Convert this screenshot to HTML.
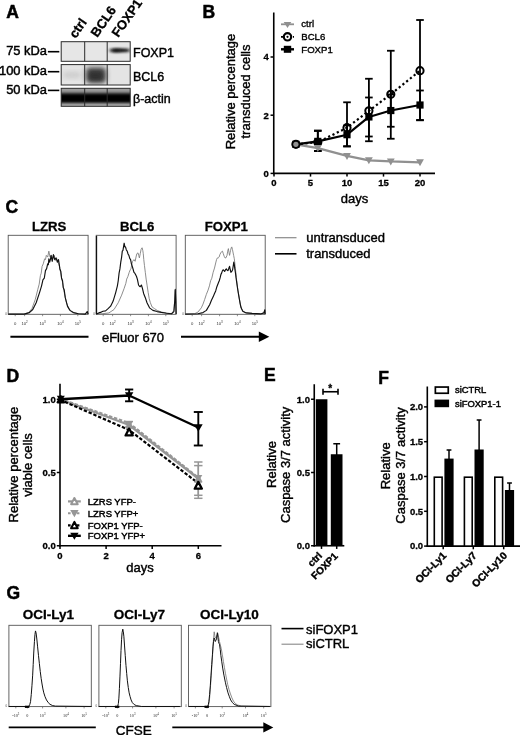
<!DOCTYPE html>
<html lang="en"><head><meta charset="utf-8"><title>Figure</title>
<style>html,body{margin:0;padding:0;background:#fff;}svg{display:block;filter:blur(0.35px);font-family:'Liberation Sans',Arial,Helvetica,sans-serif;}</style></head>
<body>
<svg width="520" height="735" viewBox="0 0 520 735">
<rect width="520" height="735" fill="#fff"/>
<g id="panelA">
<text x="6.3" y="17.7" font-size="17.5" font-weight="bold" text-anchor="start" fill="#000" stroke="#000" stroke-width="0.5">A</text>
<text x="75.7" y="38.9" font-size="13" font-weight="bold" text-anchor="start" fill="#000" transform="rotate(-55 75.7 38.9)" stroke="#000" stroke-width="0.3">ctrl</text>
<text x="97.3" y="38" font-size="13" font-weight="bold" text-anchor="start" fill="#000" transform="rotate(-55 97.3 38)" stroke="#000" stroke-width="0.3">BCL6</text>
<text x="118.3" y="38" font-size="13" font-weight="bold" text-anchor="start" fill="#000" transform="rotate(-55 118.3 38)" stroke="#000" stroke-width="0.3">FOXP1</text>
<text x="47.0" y="55.1" font-size="12.9" font-weight="normal" text-anchor="end" fill="#000" stroke="#000" stroke-width="0.45">75 kDa</text>
<line x1="47.9" y1="51.7" x2="59.3" y2="51.7" stroke="#000" stroke-width="1.6"/>
<text x="47.0" y="75.2" font-size="12.9" font-weight="normal" text-anchor="end" fill="#000" stroke="#000" stroke-width="0.45">100 kDa</text>
<line x1="47.9" y1="71.7" x2="59.3" y2="71.7" stroke="#000" stroke-width="1.6"/>
<text x="47.0" y="93.9" font-size="12.9" font-weight="normal" text-anchor="end" fill="#000" stroke="#000" stroke-width="0.45">50 kDa</text>
<line x1="47.9" y1="90.4" x2="59.3" y2="90.4" stroke="#000" stroke-width="1.6"/>
<text x="133" y="57" font-size="12.5" font-weight="normal" text-anchor="start" fill="#000" stroke="#000" stroke-width="0.4">FOXP1</text>
<text x="133" y="81" font-size="12.5" font-weight="normal" text-anchor="start" fill="#000" stroke="#000" stroke-width="0.4">BCL6</text>
<text x="133" y="102.5" font-size="12.5" font-weight="normal" text-anchor="start" fill="#000" stroke="#000" stroke-width="0.4">β-actin</text>
<defs><filter id="bl1" x="-30%" y="-60%" width="160%" height="220%"><feGaussianBlur stdDeviation="2.0 1.3"/></filter><filter id="bl2" x="-30%" y="-40%" width="160%" height="180%"><feGaussianBlur stdDeviation="2.4 2.6"/></filter><filter id="bl3" x="-10%" y="-60%" width="120%" height="220%"><feGaussianBlur stdDeviation="1.2 1.5"/></filter><clipPath id="cr1"><rect x="61.2" y="41.7" width="69" height="19.6"/></clipPath><clipPath id="cr2"><rect x="61.2" y="64.6" width="69" height="20.4"/></clipPath><clipPath id="cr3"><rect x="61.2" y="88.3" width="69" height="18"/></clipPath></defs>
<rect x="61.2" y="41.7" width="68.99999999999999" height="19.6" fill="#e6e6e6" stroke="none" stroke-width="0"/>
<g clip-path="url(#cr1)"><rect x="110.5" y="48.6" width="19" height="3.6" rx="1.8" fill="#1a1a1a" filter="url(#bl1)"/><rect x="112" y="48.4" width="9" height="4" rx="2" fill="#111" opacity="0.6" filter="url(#bl1)"/></g>
<rect x="61.2" y="64.6" width="68.99999999999999" height="20.4" fill="#e4e4e4" stroke="none" stroke-width="0"/>
<g clip-path="url(#cr2)"><rect x="86" y="67.5" width="20" height="15.5" rx="4" fill="#3a3a3a" filter="url(#bl2)"/><rect x="89" y="72.5" width="13" height="8" rx="4" fill="#222" opacity="0.45" filter="url(#bl2)"/><rect x="63" y="72" width="18" height="6" rx="3" fill="#bbb" opacity="0.6" filter="url(#bl2)"/></g>
<rect x="61.2" y="88.3" width="68.99999999999999" height="18" fill="#9c9c9c" stroke="none" stroke-width="0"/>
<g clip-path="url(#cr3)"><rect x="58" y="93.2" width="76" height="9.8" fill="#000" filter="url(#bl3)"/><rect x="58" y="104.6" width="76" height="3" fill="#ccc" opacity="0.6" filter="url(#bl3)"/></g>
<rect x="61.2" y="41.7" width="68.99999999999999" height="19.599999999999994" fill="none" stroke="#2a2a2a" stroke-width="1"/>
<line x1="84.7" y1="41.7" x2="84.7" y2="61.3" stroke="#2a2a2a" stroke-width="1"/>
<line x1="107.2" y1="41.7" x2="107.2" y2="61.3" stroke="#2a2a2a" stroke-width="1"/>
<rect x="61.2" y="64.6" width="68.99999999999999" height="20.400000000000006" fill="none" stroke="#2a2a2a" stroke-width="1"/>
<line x1="84.7" y1="64.6" x2="84.7" y2="85.0" stroke="#2a2a2a" stroke-width="1"/>
<line x1="107.2" y1="64.6" x2="107.2" y2="85.0" stroke="#2a2a2a" stroke-width="1"/>
<rect x="61.2" y="88.3" width="68.99999999999999" height="18.0" fill="none" stroke="#2a2a2a" stroke-width="1"/>
<line x1="84.7" y1="88.3" x2="84.7" y2="106.3" stroke="#2a2a2a" stroke-width="1"/>
<line x1="107.2" y1="88.3" x2="107.2" y2="106.3" stroke="#2a2a2a" stroke-width="1"/>
</g>

<g id="panelB">
<text x="202.5" y="18.0" font-size="17.5" font-weight="bold" text-anchor="start" fill="#000" stroke="#000" stroke-width="0.5">B</text>
<line x1="273.75" y1="12.5" x2="273.75" y2="174.15" stroke="#000" stroke-width="1.6"/>
<line x1="272.95" y1="173.4" x2="435" y2="173.4" stroke="#000" stroke-width="1.6"/>
<line x1="270.55" y1="173.4" x2="273.75" y2="173.4" stroke="#000" stroke-width="1.5"/>
<text x="268.75" y="176.70000000000002" font-size="9.5" font-weight="bold" text-anchor="end" fill="#000" stroke="#000" stroke-width="0.3">0</text>
<line x1="270.55" y1="115.2" x2="273.75" y2="115.2" stroke="#000" stroke-width="1.5"/>
<text x="268.75" y="118.5" font-size="9.5" font-weight="bold" text-anchor="end" fill="#000" stroke="#000" stroke-width="0.3">2</text>
<line x1="270.55" y1="57.0" x2="273.75" y2="57.0" stroke="#000" stroke-width="1.5"/>
<text x="268.75" y="60.3" font-size="9.5" font-weight="bold" text-anchor="end" fill="#000" stroke="#000" stroke-width="0.3">4</text>
<line x1="274.0" y1="173.4" x2="274.0" y2="176.6" stroke="#000" stroke-width="1.5"/>
<text x="274.0" y="186.3" font-size="9.5" font-weight="bold" text-anchor="middle" fill="#000" stroke="#000" stroke-width="0.3">0</text>
<line x1="310.5" y1="173.4" x2="310.5" y2="176.6" stroke="#000" stroke-width="1.5"/>
<text x="310.5" y="186.3" font-size="9.5" font-weight="bold" text-anchor="middle" fill="#000" stroke="#000" stroke-width="0.3">5</text>
<line x1="347.0" y1="173.4" x2="347.0" y2="176.6" stroke="#000" stroke-width="1.5"/>
<text x="347.0" y="186.3" font-size="9.5" font-weight="bold" text-anchor="middle" fill="#000" stroke="#000" stroke-width="0.3">10</text>
<line x1="383.5" y1="173.4" x2="383.5" y2="176.6" stroke="#000" stroke-width="1.5"/>
<text x="383.5" y="186.3" font-size="9.5" font-weight="bold" text-anchor="middle" fill="#000" stroke="#000" stroke-width="0.3">15</text>
<line x1="420.0" y1="173.4" x2="420.0" y2="176.6" stroke="#000" stroke-width="1.5"/>
<text x="420.0" y="186.3" font-size="9.5" font-weight="bold" text-anchor="middle" fill="#000" stroke="#000" stroke-width="0.3">20</text>
<text x="354.5" y="203.0" font-size="13" font-weight="normal" text-anchor="middle" fill="#000" stroke="#000" stroke-width="0.4">days</text>
<text x="234.5" y="91.5" font-size="13" font-weight="normal" text-anchor="middle" fill="#000" transform="rotate(-90 234.5 91.5)" stroke="#000" stroke-width="0.4">Relative percentage</text>
<text x="249.8" y="91.5" font-size="13" font-weight="normal" text-anchor="middle" fill="#000" transform="rotate(-90 249.8 91.5)" stroke="#000" stroke-width="0.4">transduced cells</text>
<polyline points="295.9,144.3 317.8,148.08 347.0,155.94 368.9,160.31 390.8,161.47 420.0,162.34" fill="none" stroke="#909090" stroke-width="2.3" stroke-linejoin="round"/>
<line x1="317.8" y1="130.5" x2="317.8" y2="151" stroke="#000" stroke-width="1.8"/>
<line x1="314.0" y1="130.5" x2="321.6" y2="130.5" stroke="#000" stroke-width="1.8"/>
<line x1="314.0" y1="151" x2="321.6" y2="151" stroke="#000" stroke-width="1.8"/>
<line x1="347.0" y1="102.3" x2="347.0" y2="146.2" stroke="#000" stroke-width="1.8"/>
<line x1="343.2" y1="102.3" x2="350.8" y2="102.3" stroke="#000" stroke-width="1.8"/>
<line x1="343.2" y1="146.2" x2="350.8" y2="146.2" stroke="#000" stroke-width="1.8"/>
<line x1="368.9" y1="78.75" x2="368.9" y2="141.25" stroke="#000" stroke-width="1.8"/>
<line x1="365.09999999999997" y1="78.75" x2="372.7" y2="78.75" stroke="#000" stroke-width="1.8"/>
<line x1="365.09999999999997" y1="141.25" x2="372.7" y2="141.25" stroke="#000" stroke-width="1.8"/>
<line x1="390.8" y1="50.75" x2="390.8" y2="138.75" stroke="#000" stroke-width="1.8"/>
<line x1="387.0" y1="50.75" x2="394.6" y2="50.75" stroke="#000" stroke-width="1.8"/>
<line x1="387.0" y1="138.75" x2="394.6" y2="138.75" stroke="#000" stroke-width="1.8"/>
<line x1="420.0" y1="20" x2="420.0" y2="120" stroke="#000" stroke-width="1.8"/>
<line x1="416.2" y1="20" x2="423.8" y2="20" stroke="#000" stroke-width="1.8"/>
<line x1="416.2" y1="120" x2="423.8" y2="120" stroke="#000" stroke-width="1.8"/>
<line x1="317.8" y1="131" x2="317.8" y2="151" stroke="#000" stroke-width="1.8"/>
<line x1="314.0" y1="131" x2="321.6" y2="131" stroke="#000" stroke-width="1.8"/>
<line x1="314.0" y1="151" x2="321.6" y2="151" stroke="#000" stroke-width="1.8"/>
<line x1="347.0" y1="125.5" x2="347.0" y2="146.5" stroke="#000" stroke-width="1.8"/>
<line x1="343.2" y1="125.5" x2="350.8" y2="125.5" stroke="#000" stroke-width="1.8"/>
<line x1="343.2" y1="146.5" x2="350.8" y2="146.5" stroke="#000" stroke-width="1.8"/>
<line x1="368.9" y1="97.5" x2="368.9" y2="136.5" stroke="#000" stroke-width="1.8"/>
<line x1="365.09999999999997" y1="97.5" x2="372.7" y2="97.5" stroke="#000" stroke-width="1.8"/>
<line x1="365.09999999999997" y1="136.5" x2="372.7" y2="136.5" stroke="#000" stroke-width="1.8"/>
<line x1="390.8" y1="94.5" x2="390.8" y2="126.75" stroke="#000" stroke-width="1.8"/>
<line x1="387.0" y1="94.5" x2="394.6" y2="94.5" stroke="#000" stroke-width="1.8"/>
<line x1="387.0" y1="126.75" x2="394.6" y2="126.75" stroke="#000" stroke-width="1.8"/>
<line x1="420.0" y1="90.5" x2="420.0" y2="120.3" stroke="#000" stroke-width="1.8"/>
<line x1="416.2" y1="90.5" x2="423.8" y2="90.5" stroke="#000" stroke-width="1.8"/>
<line x1="416.2" y1="120.3" x2="423.8" y2="120.3" stroke="#000" stroke-width="1.8"/>
<polyline points="295.9,144.3 317.8,142.26 347.0,127.71 368.9,110.84 390.8,94.25 420.0,70.68" fill="none" stroke="#000" stroke-width="2.2" stroke-linejoin="round" stroke-dasharray="2.2 2.6"/>
<polyline points="295.9,144.3 317.8,141.39 347.0,134.7 368.9,116.95 390.8,110.54 420.0,105.02" fill="none" stroke="#000" stroke-width="2.2" stroke-linejoin="round"/>
<rect x="292.29999999999995" y="140.70000000000002" width="7.2" height="7.2" fill="#000" stroke="none" stroke-width="0"/>
<rect x="314.2" y="137.79" width="7.2" height="7.2" fill="#000" stroke="none" stroke-width="0"/>
<rect x="343.4" y="131.097" width="7.2" height="7.2" fill="#000" stroke="none" stroke-width="0"/>
<rect x="365.29999999999995" y="113.346" width="7.2" height="7.2" fill="#000" stroke="none" stroke-width="0"/>
<rect x="387.2" y="106.944" width="7.2" height="7.2" fill="#000" stroke="none" stroke-width="0"/>
<rect x="416.4" y="101.415" width="7.2" height="7.2" fill="#000" stroke="none" stroke-width="0"/>
<circle cx="295.9" cy="144.3" r="3.6" fill="none" stroke="#000" stroke-width="2.0"/>
<circle cx="317.8" cy="142.263" r="3.6" fill="none" stroke="#000" stroke-width="2.0"/>
<circle cx="347.0" cy="127.713" r="3.6" fill="none" stroke="#000" stroke-width="2.0"/>
<circle cx="368.9" cy="110.83500000000001" r="3.6" fill="none" stroke="#000" stroke-width="2.0"/>
<circle cx="390.8" cy="94.24799999999999" r="3.6" fill="none" stroke="#000" stroke-width="2.0"/>
<circle cx="420.0" cy="70.677" r="3.6" fill="none" stroke="#000" stroke-width="2.0"/>
<polygon points="313.90000000000003,145.083 321.7,145.083 317.8,152.083" fill="#909090"/>
<polygon points="343.1,152.94 350.9,152.94 347.0,159.94" fill="#909090"/>
<polygon points="365.0,157.305 372.79999999999995,157.305 368.9,164.305" fill="#909090"/>
<polygon points="386.90000000000003,158.469 394.7,158.469 390.8,165.469" fill="#909090"/>
<polygon points="416.1,159.342 423.9,159.342 420.0,166.342" fill="#909090"/>
<circle cx="295.9" cy="144.3" r="2.6" fill="#909090"/>
<line x1="281" y1="24.3" x2="294" y2="24.3" stroke="#909090" stroke-width="1.8"/>
<polygon points="283.7,22.1 291.3,22.1 287.5,28.1" fill="#909090"/>
<line x1="281" y1="36.8" x2="294" y2="36.8" stroke="#000" stroke-width="1.8" stroke-dasharray="2 2"/>
<circle cx="287.5" cy="36.8" r="3.7" fill="#fff" stroke="#000" stroke-width="2.2"/>
<circle cx="287.5" cy="36.8" r="1.1" fill="#000"/>
<line x1="281" y1="49.3" x2="294" y2="49.3" stroke="#000" stroke-width="2.4"/>
<rect x="283.8" y="45.8" width="7.4" height="7.0" fill="#000" stroke="none" stroke-width="0"/>
<text x="301.3" y="27.2" font-size="9.6" font-weight="normal" text-anchor="start" fill="#000" stroke="#000" stroke-width="0.35">ctrl</text>
<text x="301.3" y="40.1" font-size="9.6" font-weight="normal" text-anchor="start" fill="#000" stroke="#000" stroke-width="0.35">BCL6</text>
<text x="301.3" y="52.6" font-size="9.6" font-weight="normal" text-anchor="start" fill="#000" stroke="#000" stroke-width="0.35">FOXP1</text>
</g>

<g id="panelC">
<text x="5.6" y="212.5" font-size="17.5" font-weight="bold" text-anchor="start" fill="#000" stroke="#000" stroke-width="0.5">C</text>
<text x="49.2" y="230.8" font-size="13.2" font-weight="bold" text-anchor="middle" fill="#000" stroke="#000" stroke-width="0.3">LZRS</text>
<rect x="8.2" y="235.3" width="79.9" height="79" fill="#fff" stroke="#555" stroke-width="0.9"/>
<polyline points="8.23,314.11 23.46,314.11 28.54,312.59 31.92,308.69 35.31,299.39 37.85,289.23 39.2,284.15 40.39,275.69 41.23,273.15 42.08,266.39 43.26,263.85 44.62,258.77 45.46,259.62 46.31,255.39 47.66,257.08 48.85,251.15 50.03,257.08 51.39,255.39 52.74,258.77 54.09,255.39 55.45,260.46 56.8,258.77 58.15,262.15 59.51,266.39 60.86,274.0 62.55,282.46 64.25,292.62 66.28,301.92 68.65,308.69 71.69,312.08 78.46,313.77 85.23,314.11 87.26,311.57 88.11,314.11" fill="none" stroke="#787878" stroke-width="0.85" stroke-linejoin="round"/>
<polyline points="8.23,314.11 24.31,314.11 29.39,312.59 32.77,309.54 36.15,302.77 39.54,292.62 41.57,285.85 42.92,279.92 44.28,278.23 45.46,270.62 46.65,268.59 47.66,263.85 48.34,264.69 48.85,258.77 49.69,262.15 50.37,259.62 51.05,255.39 52.23,261.31 53.42,254.54 54.26,257.92 54.77,259.62 56.12,257.92 57.31,262.15 58.49,259.62 59.17,263.85 59.85,268.92 60.86,271.46 61.54,278.23 62.55,280.77 63.23,287.54 64.25,290.08 65.26,297.69 67.46,306.16 70.0,310.39 73.39,312.59 78.46,313.77 85.23,314.11 87.26,311.57 88.11,314.11" fill="none" stroke="#111" stroke-width="1.15" stroke-linejoin="round"/>
<text x="5.999999999999999" y="315.2" font-size="3" font-weight="normal" text-anchor="middle" fill="#444">0</text>
<line x1="15.2" y1="314.6" x2="15.2" y2="316.20000000000005" stroke="#444" stroke-width="0.6"/>
<text x="15.2" y="324.6" font-size="4.2" text-anchor="middle" fill="#333">0</text>
<line x1="24.6" y1="314.6" x2="24.6" y2="316.20000000000005" stroke="#444" stroke-width="0.6"/>
<text x="24.6" y="324.6" font-size="4.2" text-anchor="middle" fill="#333">10<tspan dy="-1.6" font-size="3">2</tspan></text>
<line x1="42.6" y1="314.6" x2="42.6" y2="316.20000000000005" stroke="#444" stroke-width="0.6"/>
<text x="42.6" y="324.6" font-size="4.2" text-anchor="middle" fill="#333">10<tspan dy="-1.6" font-size="3">3</tspan></text>
<line x1="60.4" y1="314.6" x2="60.4" y2="316.20000000000005" stroke="#444" stroke-width="0.6"/>
<text x="60.4" y="324.6" font-size="4.2" text-anchor="middle" fill="#333">10<tspan dy="-1.6" font-size="3">4</tspan></text>
<line x1="77.8" y1="314.6" x2="77.8" y2="316.20000000000005" stroke="#444" stroke-width="0.6"/>
<text x="77.8" y="324.6" font-size="4.2" text-anchor="middle" fill="#333">10<tspan dy="-1.6" font-size="3">5</tspan></text>
<text x="137.2" y="230.8" font-size="13.2" font-weight="bold" text-anchor="middle" fill="#000" stroke="#000" stroke-width="0.3">BCL6</text>
<rect x="96.2" y="235.3" width="79.9" height="79" fill="#fff" stroke="#555" stroke-width="0.9"/>
<polyline points="96.23,314.11 102.15,313.77 108.92,312.92 114.0,309.54 118.23,302.77 121.62,295.15 124.15,288.39 125.85,283.31 126.69,279.08 127.88,276.54 129.23,272.31 130.25,269.77 130.92,268.92 131.94,263.85 132.62,261.31 133.97,259.62 135.15,261.31 136.0,257.08 136.85,253.69 138.03,252.85 138.71,255.39 139.39,257.92 140.23,253.69 141.08,249.46 142.09,247.77 142.77,250.31 143.28,253.69 143.79,259.62 144.46,265.54 145.31,272.31 146.15,279.08 147.17,285.85 148.19,292.62 149.2,298.54 150.39,302.77 152.08,307.0 154.62,308.69 157.15,310.39 161.39,312.08 166.46,312.92 171.54,313.77 173.91,310.39 174.76,299.39 175.26,290.08 175.77,301.08 176.11,314.11" fill="none" stroke="#787878" stroke-width="0.85" stroke-linejoin="round"/>
<polyline points="96.23,314.11 98.77,312.92 101.31,312.08 103.0,311.23 105.54,310.89 108.08,308.69 110.62,306.16 113.15,301.08 115.69,292.62 117.39,285.85 118.23,280.77 119.08,273.15 119.92,268.92 120.77,262.15 121.62,257.08 122.29,251.15 122.97,250.31 123.65,246.08 124.15,243.2 124.83,246.92 125.51,246.92 126.35,249.97 127.2,251.15 128.05,254.03 128.89,255.39 129.74,258.43 130.59,259.62 131.43,263.85 132.28,266.39 133.12,269.26 133.97,272.31 134.82,273.15 135.66,274.85 136.51,276.54 137.35,279.08 138.03,282.46 138.54,285.0 139.39,286.19 140.23,286.69 141.42,285.0 142.43,288.39 143.62,293.46 145.31,297.69 147.0,302.77 149.54,307.85 152.92,310.39 157.15,311.57 161.39,312.42 166.46,313.26 171.54,313.77 173.91,311.57 174.76,301.08 175.26,289.23 175.77,301.08 176.11,314.11" fill="none" stroke="#111" stroke-width="1.15" stroke-linejoin="round"/>
<text x="94.0" y="315.2" font-size="3" font-weight="normal" text-anchor="middle" fill="#444">0</text>
<line x1="103.2" y1="314.6" x2="103.2" y2="316.20000000000005" stroke="#444" stroke-width="0.6"/>
<text x="103.2" y="324.6" font-size="4.2" text-anchor="middle" fill="#333">0</text>
<line x1="112.6" y1="314.6" x2="112.6" y2="316.20000000000005" stroke="#444" stroke-width="0.6"/>
<text x="112.6" y="324.6" font-size="4.2" text-anchor="middle" fill="#333">10<tspan dy="-1.6" font-size="3">2</tspan></text>
<line x1="130.6" y1="314.6" x2="130.6" y2="316.20000000000005" stroke="#444" stroke-width="0.6"/>
<text x="130.6" y="324.6" font-size="4.2" text-anchor="middle" fill="#333">10<tspan dy="-1.6" font-size="3">3</tspan></text>
<line x1="148.4" y1="314.6" x2="148.4" y2="316.20000000000005" stroke="#444" stroke-width="0.6"/>
<text x="148.4" y="324.6" font-size="4.2" text-anchor="middle" fill="#333">10<tspan dy="-1.6" font-size="3">4</tspan></text>
<line x1="165.8" y1="314.6" x2="165.8" y2="316.20000000000005" stroke="#444" stroke-width="0.6"/>
<text x="165.8" y="324.6" font-size="4.2" text-anchor="middle" fill="#333">10<tspan dy="-1.6" font-size="3">5</tspan></text>
<line x1="96.5" y1="236" x2="96.5" y2="314" stroke="#111" stroke-width="1.3"/>
<text x="226.3" y="230.8" font-size="13.2" font-weight="bold" text-anchor="middle" fill="#000" stroke="#000" stroke-width="0.3">FOXP1</text>
<rect x="185.3" y="235.3" width="79.9" height="79" fill="#fff" stroke="#555" stroke-width="0.9"/>
<polyline points="185.23,314.11 194.54,313.77 197.92,312.08 201.31,307.85 203.0,304.12 204.69,299.39 206.39,294.31 208.08,290.08 209.43,285.85 210.62,280.77 211.8,278.23 213.15,272.31 214.51,268.08 215.69,263.0 216.54,259.62 217.39,257.92 218.23,257.92 219.08,257.08 219.92,254.54 220.77,252.85 221.62,251.66 222.46,251.15 223.31,253.69 224.15,256.23 225.0,257.92 225.85,257.92 227.03,255.39 227.71,251.15 228.39,248.62 229.06,252.85 229.57,255.39 230.08,252.85 230.59,250.31 231.26,247.77 231.77,246.92 232.45,249.46 232.95,252.0 233.63,255.39 234.31,258.77 234.82,263.0 235.15,266.39 235.83,272.31 236.51,279.08 237.52,287.54 238.54,293.97 239.55,299.72 240.57,305.31 241.59,308.69 243.28,311.57 246.66,312.92 252.08,313.43 260.54,313.94 263.92,312.92 264.77,309.88 265.11,314.11" fill="none" stroke="#787878" stroke-width="0.85" stroke-linejoin="round"/>
<polyline points="185.23,314.11 197.92,313.77 203.0,312.59 206.39,310.39 209.77,304.46 211.46,300.23 213.15,296.85 214.51,293.46 215.69,290.92 216.88,286.69 218.23,283.31 219.25,280.77 220.26,277.39 220.94,274.34 221.62,273.15 222.46,270.62 223.31,269.77 224.66,271.46 225.51,269.77 226.35,268.92 227.2,270.28 228.05,270.62 228.89,268.08 229.57,266.39 230.25,269.77 230.92,272.31 231.77,271.46 232.62,269.77 233.29,265.54 233.8,262.15 234.31,264.69 234.82,268.92 235.49,273.15 236.0,277.39 236.85,283.31 237.69,289.23 238.54,294.31 239.39,299.39 240.23,304.12 241.08,307.85 242.77,311.23 246.15,312.92 252.08,313.43 260.54,313.94 263.92,312.92 264.77,309.88 265.11,314.11" fill="none" stroke="#111" stroke-width="1.15" stroke-linejoin="round"/>
<text x="183.10000000000002" y="315.2" font-size="3" font-weight="normal" text-anchor="middle" fill="#444">0</text>
<line x1="192.2" y1="314.6" x2="192.2" y2="316.20000000000005" stroke="#444" stroke-width="0.6"/>
<text x="192.2" y="324.6" font-size="4.2" text-anchor="middle" fill="#333">0</text>
<line x1="201.6" y1="314.6" x2="201.6" y2="316.20000000000005" stroke="#444" stroke-width="0.6"/>
<text x="201.6" y="324.6" font-size="4.2" text-anchor="middle" fill="#333">10<tspan dy="-1.6" font-size="3">2</tspan></text>
<line x1="219.6" y1="314.6" x2="219.6" y2="316.20000000000005" stroke="#444" stroke-width="0.6"/>
<text x="219.6" y="324.6" font-size="4.2" text-anchor="middle" fill="#333">10<tspan dy="-1.6" font-size="3">3</tspan></text>
<line x1="237.4" y1="314.6" x2="237.4" y2="316.20000000000005" stroke="#444" stroke-width="0.6"/>
<text x="237.4" y="324.6" font-size="4.2" text-anchor="middle" fill="#333">10<tspan dy="-1.6" font-size="3">4</tspan></text>
<line x1="254.8" y1="314.6" x2="254.8" y2="316.20000000000005" stroke="#444" stroke-width="0.6"/>
<text x="254.8" y="324.6" font-size="4.2" text-anchor="middle" fill="#333">10<tspan dy="-1.6" font-size="3">5</tspan></text>
<line x1="275" y1="237.7" x2="296.5" y2="237.7" stroke="#8a8a8a" stroke-width="1.2"/>
<line x1="275" y1="253.8" x2="296.5" y2="253.8" stroke="#000" stroke-width="1.6"/>
<text x="306.2" y="242" font-size="13" font-weight="normal" text-anchor="start" fill="#000" stroke="#000" stroke-width="0.4">untransduced</text>
<text x="306.2" y="258" font-size="13" font-weight="normal" text-anchor="start" fill="#000" stroke="#000" stroke-width="0.4">transduced</text>
<line x1="10.4" y1="336.7" x2="88.5" y2="336.7" stroke="#000" stroke-width="1.9"/>
<text x="133" y="342" font-size="13" font-weight="normal" text-anchor="middle" fill="#000" stroke="#000" stroke-width="0.4">eFluor 670</text>
<line x1="181" y1="336.7" x2="260" y2="336.7" stroke="#000" stroke-width="1.9"/>
<polygon points="258.8,331.4 269.3,336.7 258.8,342" fill="#000"/>
</g>

<g id="panelD">
<text x="6.4" y="382.3" font-size="17.5" font-weight="bold" text-anchor="start" fill="#000" stroke="#000" stroke-width="0.5">D</text>
<line x1="60.0" y1="383.75" x2="60.0" y2="546.5" stroke="#000" stroke-width="1.6"/>
<line x1="59.2" y1="545.75" x2="221.5" y2="545.75" stroke="#000" stroke-width="1.6"/>
<line x1="56.8" y1="545.75" x2="60.0" y2="545.75" stroke="#000" stroke-width="1.5"/>
<text x="55.8" y="549.05" font-size="9.5" font-weight="bold" text-anchor="end" fill="#000" stroke="#000" stroke-width="0.3">0.0</text>
<line x1="56.8" y1="472.5" x2="60.0" y2="472.5" stroke="#000" stroke-width="1.5"/>
<text x="55.8" y="475.8" font-size="9.5" font-weight="bold" text-anchor="end" fill="#000" stroke="#000" stroke-width="0.3">0.5</text>
<line x1="56.8" y1="399.25" x2="60.0" y2="399.25" stroke="#000" stroke-width="1.5"/>
<text x="55.8" y="402.55" font-size="9.5" font-weight="bold" text-anchor="end" fill="#000" stroke="#000" stroke-width="0.3">1.0</text>
<line x1="60.0" y1="545.75" x2="60.0" y2="548.95" stroke="#000" stroke-width="1.5"/>
<text x="60.0" y="559.3" font-size="9.5" font-weight="bold" text-anchor="middle" fill="#000" stroke="#000" stroke-width="0.3">0</text>
<line x1="106.1" y1="545.75" x2="106.1" y2="548.95" stroke="#000" stroke-width="1.5"/>
<text x="106.1" y="559.3" font-size="9.5" font-weight="bold" text-anchor="middle" fill="#000" stroke="#000" stroke-width="0.3">2</text>
<line x1="152.2" y1="545.75" x2="152.2" y2="548.95" stroke="#000" stroke-width="1.5"/>
<text x="152.2" y="559.3" font-size="9.5" font-weight="bold" text-anchor="middle" fill="#000" stroke="#000" stroke-width="0.3">4</text>
<line x1="198.3" y1="545.75" x2="198.3" y2="548.95" stroke="#000" stroke-width="1.5"/>
<text x="198.3" y="559.3" font-size="9.5" font-weight="bold" text-anchor="middle" fill="#000" stroke="#000" stroke-width="0.3">6</text>
<text x="140" y="571.5" font-size="13" font-weight="normal" text-anchor="middle" fill="#000" stroke="#000" stroke-width="0.4">days</text>
<text x="18.1" y="464.6" font-size="13" font-weight="normal" text-anchor="middle" fill="#000" transform="rotate(-90 18.1 464.6)" stroke="#000" stroke-width="0.4">Relative percentage</text>
<text x="32.4" y="465.0" font-size="13" font-weight="normal" text-anchor="middle" fill="#000" transform="rotate(-90 32.4 465.0)" stroke="#000" stroke-width="0.4">viable cells</text>
<line x1="198.3" y1="462.0" x2="198.3" y2="498.3" stroke="#969696" stroke-width="1.5"/>
<line x1="194.10000000000002" y1="462.0" x2="202.5" y2="462.0" stroke="#969696" stroke-width="1.5"/>
<line x1="194.10000000000002" y1="498.3" x2="202.5" y2="498.3" stroke="#969696" stroke-width="1.5"/>
<line x1="198.3" y1="465.6" x2="198.3" y2="495.3" stroke="#969696" stroke-width="1.5"/>
<line x1="194.10000000000002" y1="465.6" x2="202.5" y2="465.6" stroke="#969696" stroke-width="1.5"/>
<line x1="194.10000000000002" y1="495.3" x2="202.5" y2="495.3" stroke="#969696" stroke-width="1.5"/>
<line x1="129.15" y1="421.5" x2="129.15" y2="426.5" stroke="#969696" stroke-width="1.4"/>
<line x1="125.35000000000001" y1="421.5" x2="132.95000000000002" y2="421.5" stroke="#969696" stroke-width="1.4"/>
<line x1="125.35000000000001" y1="426.5" x2="132.95000000000002" y2="426.5" stroke="#969696" stroke-width="1.4"/>
<polyline points="60.0,399.25 129.15,425 198.3,478.5" fill="none" stroke="#969696" stroke-width="2.4" stroke-linejoin="round"/>
<polyline points="60.0,398.75 129.15,423 198.3,477.5" fill="none" stroke="#969696" stroke-width="2.0" stroke-linejoin="round" stroke-dasharray="3.4 1.8"/>
<polyline points="60.0,399.75 129.15,430.0 198.3,483.3" fill="none" stroke="#000" stroke-width="2.2" stroke-linejoin="round" stroke-dasharray="3.4 1.8"/>
<line x1="129.15" y1="389.5" x2="129.15" y2="401.3" stroke="#000" stroke-width="1.9"/>
<line x1="125.05000000000001" y1="389.5" x2="133.25" y2="389.5" stroke="#000" stroke-width="1.9"/>
<line x1="125.05000000000001" y1="401.3" x2="133.25" y2="401.3" stroke="#000" stroke-width="1.9"/>
<line x1="198.3" y1="412" x2="198.3" y2="445.5" stroke="#000" stroke-width="1.9"/>
<line x1="193.8" y1="412" x2="202.8" y2="412" stroke="#000" stroke-width="1.9"/>
<line x1="193.8" y1="445.5" x2="202.8" y2="445.5" stroke="#000" stroke-width="1.9"/>
<polyline points="60.0,399.25 129.15,395.5 198.3,427.5" fill="none" stroke="#000" stroke-width="2.3" stroke-linejoin="round"/>
<polygon points="124.95,392.25 133.35,392.25 129.15,399.39" fill="#000" stroke="none" stroke-width="0"/>
<polygon points="193.9,424.3 202.70000000000002,424.3 198.3,431.78000000000003" fill="#000" stroke="none" stroke-width="0"/>
<polygon points="125.15,421.0 133.15,421.0 129.15,427.8" fill="#969696" stroke="none" stroke-width="0"/>
<polygon points="126.15,427.85 132.15,427.85 129.15,422.15" fill="#969696" stroke="#969696" stroke-width="1.6" stroke-linejoin="round"/>
<polygon points="125.55000000000001,435.42 132.75,435.42 129.15,428.58" fill="#fff" stroke="#000" stroke-width="2.3" stroke-linejoin="round"/>
<polygon points="194.3,475.0 202.3,475.0 198.3,481.8" fill="#969696" stroke="none" stroke-width="0"/>
<polygon points="195.10000000000002,481.84000000000003 201.5,481.84000000000003 198.3,475.76" fill="#969696" stroke="#969696" stroke-width="1.8" stroke-linejoin="round"/>
<polygon points="194.70000000000002,488.72 201.9,488.72 198.3,481.88" fill="#fff" stroke="#000" stroke-width="2.3" stroke-linejoin="round"/>
<polygon points="57.5,402.385 64.1,402.385 60.8,396.115" fill="#000" stroke="#000" stroke-width="2.0" stroke-linejoin="round"/>
<polygon points="56.8,395.75 64.8,395.75 60.8,402.55" fill="#000" stroke="none" stroke-width="0"/>
<line x1="68.0" y1="501.4" x2="80.80000000000001" y2="501.4" stroke="#969696" stroke-width="2.2"/>
<polygon points="71.10000000000001,504.23499999999996 77.7,504.23499999999996 74.4,497.965" fill="#fff" stroke="#969696" stroke-width="2.0" stroke-linejoin="round"/>
<line x1="68.0" y1="513.2" x2="80.80000000000001" y2="513.2" stroke="#969696" stroke-width="2.0" stroke-dasharray="2.6 1.8"/>
<polygon points="70.2,510.05000000000007 78.60000000000001,510.05000000000007 74.4,517.19" fill="#969696" stroke="none" stroke-width="0"/>
<line x1="68.0" y1="525.4" x2="80.80000000000001" y2="525.4" stroke="#000" stroke-width="2.2" stroke-dasharray="2.6 1.8"/>
<polygon points="71.10000000000001,528.235 77.7,528.235 74.4,521.965" fill="#fff" stroke="#000" stroke-width="2.1" stroke-linejoin="round"/>
<line x1="68.0" y1="535.8" x2="80.80000000000001" y2="535.8" stroke="#000" stroke-width="2.4"/>
<polygon points="70.2,532.65 78.60000000000001,532.65 74.4,539.79" fill="#000" stroke="none" stroke-width="0"/>
<text x="87.8" y="504.79999999999995" font-size="9.45" font-weight="normal" text-anchor="start" fill="#000" stroke="#000" stroke-width="0.45">LZRS YFP-</text>
<text x="87.8" y="516.6" font-size="9.45" font-weight="normal" text-anchor="start" fill="#000" stroke="#000" stroke-width="0.45">LZRS YFP+</text>
<text x="87.8" y="528.8" font-size="9.45" font-weight="normal" text-anchor="start" fill="#000" stroke="#000" stroke-width="0.45">FOXP1 YFP-</text>
<text x="87.8" y="539.1999999999999" font-size="9.45" font-weight="normal" text-anchor="start" fill="#000" stroke="#000" stroke-width="0.45">FOXP1 YFP+</text>
</g>

<g id="panelE">
<text x="264.1" y="381.2" font-size="17.5" font-weight="bold" text-anchor="start" fill="#000" stroke="#000" stroke-width="0.5">E</text>
<line x1="314.25" y1="384.25" x2="314.25" y2="546.5" stroke="#000" stroke-width="1.6"/>
<line x1="313.45" y1="545.75" x2="344.3" y2="545.75" stroke="#000" stroke-width="1.6"/>
<line x1="311.05" y1="545.75" x2="314.25" y2="545.75" stroke="#000" stroke-width="1.5"/>
<text x="310.05" y="549.05" font-size="9.5" font-weight="bold" text-anchor="end" fill="#000" stroke="#000" stroke-width="0.3">0.0</text>
<line x1="311.05" y1="472.5" x2="314.25" y2="472.5" stroke="#000" stroke-width="1.5"/>
<text x="310.05" y="475.8" font-size="9.5" font-weight="bold" text-anchor="end" fill="#000" stroke="#000" stroke-width="0.3">0.5</text>
<line x1="311.05" y1="399.25" x2="314.25" y2="399.25" stroke="#000" stroke-width="1.5"/>
<text x="310.05" y="402.55" font-size="9.5" font-weight="bold" text-anchor="end" fill="#000" stroke="#000" stroke-width="0.3">1.0</text>
<rect x="315.8" y="399.25" width="11.6" height="146.5" fill="#000" stroke="none" stroke-width="0"/>
<rect x="330.8" y="454.25" width="11.7" height="91.5" fill="#000" stroke="none" stroke-width="0"/>
<line x1="336.7" y1="443.75" x2="336.7" y2="455" stroke="#000" stroke-width="1.5"/>
<line x1="333.3" y1="443.75" x2="340.1" y2="443.75" stroke="#000" stroke-width="1.5"/>
<line x1="321.5" y1="545.75" x2="321.5" y2="548.95" stroke="#000" stroke-width="1.5"/>
<line x1="336.7" y1="545.75" x2="336.7" y2="548.95" stroke="#000" stroke-width="1.5"/>
<line x1="323" y1="391.75" x2="338" y2="391.75" stroke="#000" stroke-width="1.6"/>
<line x1="323" y1="388.8" x2="323" y2="394.7" stroke="#000" stroke-width="1.6"/>
<line x1="338" y1="388.8" x2="338" y2="394.7" stroke="#000" stroke-width="1.6"/>
<text x="330.3" y="391.5" font-size="10" font-weight="bold" text-anchor="middle" fill="#000" stroke="#000" stroke-width="0.3">*</text>
<text x="322.8" y="556.3" font-size="10" font-weight="bold" text-anchor="end" fill="#000" transform="rotate(-45 322.8 556.3)" stroke="#000" stroke-width="0.4">ctrl</text>
<text x="338.5" y="556.8" font-size="10" font-weight="bold" text-anchor="end" fill="#000" transform="rotate(-45 338.5 556.8)" stroke="#000" stroke-width="0.4">FOXP1</text>
<text x="276" y="464.5" font-size="13" font-weight="normal" text-anchor="middle" fill="#000" transform="rotate(-90 276 464.5)" stroke="#000" stroke-width="0.4">Relative</text>
<text x="290.2" y="464.8" font-size="13" font-weight="normal" text-anchor="middle" fill="#000" transform="rotate(-90 290.2 464.8)" stroke="#000" stroke-width="0.4">Caspase 3/7 activity</text>
</g>
<g id="panelF">
<text x="378.3" y="383.7" font-size="17.5" font-weight="bold" text-anchor="start" fill="#000" stroke="#000" stroke-width="0.5">F</text>
<line x1="427.3" y1="386.5" x2="427.3" y2="546.85" stroke="#000" stroke-width="1.6"/>
<line x1="426.5" y1="546.1" x2="520" y2="546.1" stroke="#000" stroke-width="1.6"/>
<line x1="424.1" y1="546.1" x2="427.3" y2="546.1" stroke="#000" stroke-width="1.5"/>
<text x="423.1" y="549.4" font-size="9.5" font-weight="bold" text-anchor="end" fill="#000" stroke="#000" stroke-width="0.3">0.0</text>
<line x1="424.1" y1="511.3" x2="427.3" y2="511.3" stroke="#000" stroke-width="1.5"/>
<text x="423.1" y="514.6" font-size="9.5" font-weight="bold" text-anchor="end" fill="#000" stroke="#000" stroke-width="0.3">0.5</text>
<line x1="424.1" y1="476.5" x2="427.3" y2="476.5" stroke="#000" stroke-width="1.5"/>
<text x="423.1" y="479.8" font-size="9.5" font-weight="bold" text-anchor="end" fill="#000" stroke="#000" stroke-width="0.3">1.0</text>
<line x1="424.1" y1="441.70000000000005" x2="427.3" y2="441.70000000000005" stroke="#000" stroke-width="1.5"/>
<text x="423.1" y="445.00000000000006" font-size="9.5" font-weight="bold" text-anchor="end" fill="#000" stroke="#000" stroke-width="0.3">1.5</text>
<line x1="424.1" y1="406.90000000000003" x2="427.3" y2="406.90000000000003" stroke="#000" stroke-width="1.5"/>
<text x="423.1" y="410.20000000000005" font-size="9.5" font-weight="bold" text-anchor="end" fill="#000" stroke="#000" stroke-width="0.3">2.0</text>
<rect x="434.29999999999995" y="477.2" width="7.8" height="68.90000000000002" fill="#fff" stroke="#000" stroke-width="1.6"/>
<rect x="444.4" y="458.6" width="9.2" height="87.5" fill="#000" stroke="none" stroke-width="0"/>
<line x1="449.0" y1="450.0" x2="449.0" y2="459.6" stroke="#000" stroke-width="1.5"/>
<line x1="446.6" y1="450.0" x2="451.4" y2="450.0" stroke="#000" stroke-width="1.5"/>
<line x1="443.2" y1="546.1" x2="443.2" y2="549.3000000000001" stroke="#000" stroke-width="1.5"/>
<text x="447.2" y="556.2" font-size="10.3" font-weight="bold" text-anchor="end" fill="#000" transform="rotate(-45 447.2 556.2)" stroke="#000" stroke-width="0.4">OCI-Ly1</text>
<rect x="464.4" y="477.2" width="7.8" height="68.90000000000002" fill="#fff" stroke="#000" stroke-width="1.6"/>
<rect x="474.5" y="449.5" width="9.2" height="96.60000000000002" fill="#000" stroke="none" stroke-width="0"/>
<line x1="479.1" y1="420.0" x2="479.1" y2="450.5" stroke="#000" stroke-width="1.5"/>
<line x1="476.70000000000005" y1="420.0" x2="481.5" y2="420.0" stroke="#000" stroke-width="1.5"/>
<line x1="473.3" y1="546.1" x2="473.3" y2="549.3000000000001" stroke="#000" stroke-width="1.5"/>
<text x="477.3" y="556.2" font-size="10.3" font-weight="bold" text-anchor="end" fill="#000" transform="rotate(-45 477.3 556.2)" stroke="#000" stroke-width="0.4">OCI-Ly7</text>
<rect x="494.79999999999995" y="477.2" width="7.8" height="68.90000000000002" fill="#fff" stroke="#000" stroke-width="1.6"/>
<rect x="504.9" y="490.0" width="9.2" height="56.10000000000002" fill="#000" stroke="none" stroke-width="0"/>
<line x1="509.5" y1="483.0" x2="509.5" y2="491.0" stroke="#000" stroke-width="1.5"/>
<line x1="507.1" y1="483.0" x2="511.9" y2="483.0" stroke="#000" stroke-width="1.5"/>
<line x1="503.7" y1="546.1" x2="503.7" y2="549.3000000000001" stroke="#000" stroke-width="1.5"/>
<text x="507.7" y="556.2" font-size="10.3" font-weight="bold" text-anchor="end" fill="#000" transform="rotate(-45 507.7 556.2)" stroke="#000" stroke-width="0.4">OCI-Ly10</text>
<rect x="435.35" y="387.05" width="12.9" height="6.2" fill="#fff" stroke="#000" stroke-width="1.7"/>
<rect x="434.5" y="399.6" width="14.6" height="7.6" fill="#000" stroke="none" stroke-width="0"/>
<text x="455" y="392.8" font-size="9.4" font-weight="normal" text-anchor="start" fill="#000" stroke="#000" stroke-width="0.45">siCTRL</text>
<text x="455" y="406.7" font-size="9.4" font-weight="normal" text-anchor="start" fill="#000" stroke="#000" stroke-width="0.45">siFOXP1-1</text>
<text x="390" y="465.8" font-size="13" font-weight="normal" text-anchor="middle" fill="#000" transform="rotate(-90 390 465.8)" stroke="#000" stroke-width="0.4">Relative</text>
<text x="404.7" y="465.5" font-size="13" font-weight="normal" text-anchor="middle" fill="#000" transform="rotate(-90 404.7 465.5)" stroke="#000" stroke-width="0.4">Caspase 3/7 activity</text>
</g>

<g id="panelG">
<text x="6.4" y="599.0" font-size="17.5" font-weight="bold" text-anchor="start" fill="#000" stroke="#000" stroke-width="0.5">G</text>
<text x="48.5" y="618.8" font-size="13.5" font-weight="bold" text-anchor="middle" fill="#000" stroke="#000" stroke-width="0.3">OCI-Ly1</text>
<rect x="8.9" y="625.3" width="82.4" height="81.3" fill="#fff" stroke="#555" stroke-width="0.9"/>
<polyline points="8.78,706.47 28.77,706.47 29.83,704.35 30.54,701.69 31.25,694.62 31.95,685.77 32.66,675.16 33.19,664.54 33.72,653.04 34.43,641.54 34.96,634.46 35.49,630.92 36.02,632.69 36.73,638.0 37.62,646.85 38.5,655.69 39.39,663.66 40.27,671.62 41.15,678.34 42.04,684.0 42.92,688.96 43.81,692.85 45.05,696.74 46.46,699.93 48.23,702.58 50.0,704.35 52.66,705.59 55.31,706.12 91.58,706.47" fill="none" stroke="#111" stroke-width="1.0" stroke-linejoin="round"/>
<text x="6.4" y="707.4" font-size="3" font-weight="normal" text-anchor="middle" fill="#444">0</text>
<line x1="15.8" y1="706.8" x2="15.8" y2="708.4" stroke="#444" stroke-width="0.6"/>
<text x="15.8" y="716.6" font-size="4.2" text-anchor="middle" fill="#222" font-family="'Liberation Serif',serif">-10<tspan dy="-1.6" font-size="3">3</tspan></text>
<line x1="27.4" y1="706.8" x2="27.4" y2="708.4" stroke="#444" stroke-width="0.6"/>
<text x="27.4" y="716.6" font-size="4.2" text-anchor="middle" fill="#222" font-family="'Liberation Serif',serif">0</text>
<line x1="42.6" y1="706.8" x2="42.6" y2="708.4" stroke="#444" stroke-width="0.6"/>
<text x="42.6" y="716.6" font-size="4.2" text-anchor="middle" fill="#222" font-family="'Liberation Serif',serif">10<tspan dy="-1.6" font-size="3">3</tspan></text>
<line x1="65.9" y1="706.8" x2="65.9" y2="708.4" stroke="#444" stroke-width="0.6"/>
<text x="65.9" y="716.6" font-size="4.2" text-anchor="middle" fill="#222" font-family="'Liberation Serif',serif">10<tspan dy="-1.6" font-size="3">4</tspan></text>
<line x1="84.10000000000001" y1="706.8" x2="84.10000000000001" y2="708.4" stroke="#444" stroke-width="0.6"/>
<text x="84.10000000000001" y="716.6" font-size="4.2" text-anchor="middle" fill="#222" font-family="'Liberation Serif',serif">10<tspan dy="-1.6" font-size="3">5</tspan></text>
<rect x="24.9" y="705.7" width="4.4" height="2.2" fill="#000" stroke="none" stroke-width="0"/>
<text x="139.5" y="618.8" font-size="13.5" font-weight="bold" text-anchor="middle" fill="#000" stroke="#000" stroke-width="0.3">OCI-Ly7</text>
<rect x="98.9" y="625.3" width="82.4" height="81.3" fill="#fff" stroke="#555" stroke-width="0.9"/>
<polyline points="98.72,706.47 117.65,706.47 118.36,703.46 118.89,698.16 119.42,688.43 119.95,676.92 120.49,663.66 121.02,650.39 121.55,639.77 122.08,632.69 122.79,629.15 123.32,631.81 123.85,636.23 124.55,645.96 125.26,655.69 125.97,665.42 126.68,673.39 127.39,680.82 128.27,687.54 129.15,692.85 130.04,696.39 131.1,699.93 132.34,702.58 134.11,704.53 136.23,705.59 141.54,706.47 179.93,706.47" fill="none" stroke="#111" stroke-width="1.0" stroke-linejoin="round"/>
<text x="96.4" y="707.4" font-size="3" font-weight="normal" text-anchor="middle" fill="#444">0</text>
<line x1="105.80000000000001" y1="706.8" x2="105.80000000000001" y2="708.4" stroke="#444" stroke-width="0.6"/>
<text x="105.80000000000001" y="716.6" font-size="4.2" text-anchor="middle" fill="#222" font-family="'Liberation Serif',serif">-10<tspan dy="-1.6" font-size="3">3</tspan></text>
<line x1="117.4" y1="706.8" x2="117.4" y2="708.4" stroke="#444" stroke-width="0.6"/>
<text x="117.4" y="716.6" font-size="4.2" text-anchor="middle" fill="#222" font-family="'Liberation Serif',serif">0</text>
<line x1="132.60000000000002" y1="706.8" x2="132.60000000000002" y2="708.4" stroke="#444" stroke-width="0.6"/>
<text x="132.60000000000002" y="716.6" font-size="4.2" text-anchor="middle" fill="#222" font-family="'Liberation Serif',serif">10<tspan dy="-1.6" font-size="3">3</tspan></text>
<line x1="155.9" y1="706.8" x2="155.9" y2="708.4" stroke="#444" stroke-width="0.6"/>
<text x="155.9" y="716.6" font-size="4.2" text-anchor="middle" fill="#222" font-family="'Liberation Serif',serif">10<tspan dy="-1.6" font-size="3">4</tspan></text>
<line x1="174.10000000000002" y1="706.8" x2="174.10000000000002" y2="708.4" stroke="#444" stroke-width="0.6"/>
<text x="174.10000000000002" y="716.6" font-size="4.2" text-anchor="middle" fill="#222" font-family="'Liberation Serif',serif">10<tspan dy="-1.6" font-size="3">5</tspan></text>
<rect x="114.9" y="705.7" width="4.4" height="2.2" fill="#000" stroke="none" stroke-width="0"/>
<text x="229.5" y="618.8" font-size="13.5" font-weight="bold" text-anchor="middle" fill="#000" stroke="#000" stroke-width="0.3">OCI-Ly10</text>
<rect x="188.5" y="625.3" width="82.4" height="81.3" fill="#fff" stroke="#555" stroke-width="0.9"/>
<polyline points="188.72,706.47 208.19,706.47 208.89,703.46 209.6,698.16 210.31,689.31 211.02,678.69 211.72,668.08 212.43,657.46 212.96,648.62 213.49,639.77 214.2,631.81 214.73,635.35 215.26,638.0 215.97,637.65 216.5,637.12 217.21,634.82 217.92,633.58 218.62,637.12 219.51,641.54 220.39,645.08 221.28,648.62 222.34,654.81 223.4,661.36 224.46,667.72 225.52,673.74 226.59,679.05 227.65,684.36 229.06,689.66 230.48,693.91 231.89,697.8 233.49,701.16 235.43,703.64 237.73,705.06 241.27,706.12 269.93,706.47" fill="none" stroke="#787878" stroke-width="0.85" stroke-linejoin="round"/>
<polyline points="188.72,706.47 207.65,706.47 208.36,704.35 208.89,701.69 209.6,694.62 210.31,685.77 211.02,675.16 211.72,664.54 212.43,654.81 212.96,646.85 213.49,641.54 214.2,638.0 214.73,639.77 215.26,641.54 215.97,640.12 216.5,638.89 217.03,634.82 217.39,632.69 217.92,637.12 218.45,641.54 218.98,643.31 219.51,644.19 220.22,649.5 220.92,655.69 221.81,661.89 222.69,668.08 223.93,675.16 225.35,682.23 226.59,687.54 228.0,692.85 229.42,696.74 230.66,699.93 232.42,702.58 234.19,704.35 238.62,706.12 269.93,706.47" fill="none" stroke="#111" stroke-width="1.0" stroke-linejoin="round"/>
<text x="186.0" y="707.4" font-size="3" font-weight="normal" text-anchor="middle" fill="#444">0</text>
<line x1="195.4" y1="706.8" x2="195.4" y2="708.4" stroke="#444" stroke-width="0.6"/>
<text x="195.4" y="716.6" font-size="4.2" text-anchor="middle" fill="#222" font-family="'Liberation Serif',serif">-10<tspan dy="-1.6" font-size="3">3</tspan></text>
<line x1="207.0" y1="706.8" x2="207.0" y2="708.4" stroke="#444" stroke-width="0.6"/>
<text x="207.0" y="716.6" font-size="4.2" text-anchor="middle" fill="#222" font-family="'Liberation Serif',serif">0</text>
<line x1="222.2" y1="706.8" x2="222.2" y2="708.4" stroke="#444" stroke-width="0.6"/>
<text x="222.2" y="716.6" font-size="4.2" text-anchor="middle" fill="#222" font-family="'Liberation Serif',serif">10<tspan dy="-1.6" font-size="3">3</tspan></text>
<line x1="245.5" y1="706.8" x2="245.5" y2="708.4" stroke="#444" stroke-width="0.6"/>
<text x="245.5" y="716.6" font-size="4.2" text-anchor="middle" fill="#222" font-family="'Liberation Serif',serif">10<tspan dy="-1.6" font-size="3">4</tspan></text>
<line x1="263.7" y1="706.8" x2="263.7" y2="708.4" stroke="#444" stroke-width="0.6"/>
<text x="263.7" y="716.6" font-size="4.2" text-anchor="middle" fill="#222" font-family="'Liberation Serif',serif">10<tspan dy="-1.6" font-size="3">5</tspan></text>
<rect x="204.5" y="705.7" width="4.4" height="2.2" fill="#000" stroke="none" stroke-width="0"/>
<line x1="281.5" y1="628.6" x2="303.5" y2="628.6" stroke="#000" stroke-width="1.6"/>
<line x1="281.5" y1="644.2" x2="303.5" y2="644.2" stroke="#888" stroke-width="1.1"/>
<text x="306" y="633.6" font-size="13" font-weight="normal" text-anchor="start" fill="#000" stroke="#000" stroke-width="0.4">siFOXP1</text>
<text x="306" y="647.6" font-size="13" font-weight="normal" text-anchor="start" fill="#000" stroke="#000" stroke-width="0.4">siCTRL</text>
<line x1="8.7" y1="727.4" x2="95.8" y2="727.4" stroke="#000" stroke-width="1.9"/>
<text x="133.8" y="735" font-size="13.5" font-weight="normal" text-anchor="middle" fill="#000" stroke="#000" stroke-width="0.4">CFSE</text>
<line x1="172.3" y1="727.4" x2="264.5" y2="727.4" stroke="#000" stroke-width="1.9"/>
<polygon points="263.3,722.2 273.3,727.4 263.3,732.6" fill="#000"/>
</g>

</svg>
</body></html>
